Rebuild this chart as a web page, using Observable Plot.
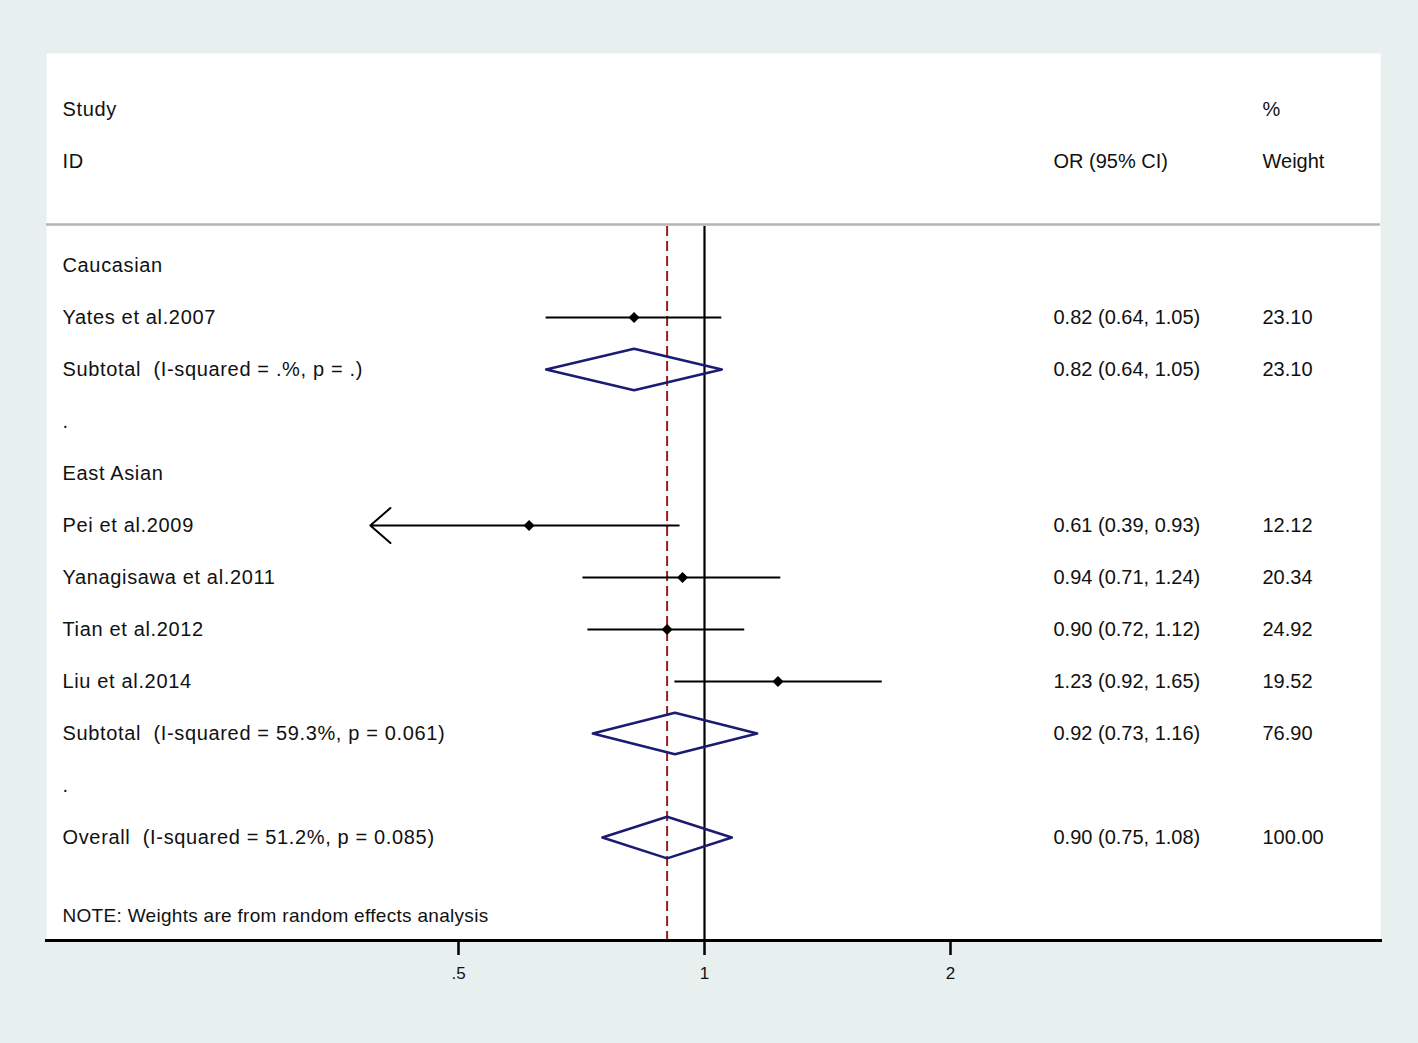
<!DOCTYPE html>
<html>
<head>
<meta charset="utf-8">
<script src="https://cdn.jsdelivr.net/npm/d3@7"></script>
<script src="https://cdn.jsdelivr.net/npm/@observablehq/plot@0.6"></script>
<style>
  html, body { margin: 0; padding: 0; background: #e7f0ef; }
  #chart svg { display: block; }
  #chart svg text { white-space: pre; }
  #chart svg .leftcol text { letter-spacing: 0.65px; }
  #chart svg .note text { letter-spacing: 0.3px; }
</style>
</head>
<body>
<div id="chart"></div>
<script>
// ---- Data ----
const studyNames = ["Yates et al.2007", "Pei et al.2009", "Yanagisawa et al.2011", "Tian et al.2012", "Liu et al.2014"];
const studyRows  = [1, 5, 6, 7, 8];
const studyOR    = [0.82, 0.61, 0.94, 0.90, 1.23];
const studyLo    = [0.64, 0.39, 0.71, 0.72, 0.92];
const studyHi    = [1.05, 0.93, 1.24, 1.12, 1.65];
const studyW     = [23.10, 12.12, 20.34, 24.92, 19.52];

const pooledNames = ["Subtotal  (I-squared = .%, p = .)", "Subtotal  (I-squared = 59.3%, p = 0.061)", "Overall  (I-squared = 51.2%, p = 0.085)"];
const pooledRows  = [2, 9, 11];
const pooledOR    = [0.82, 0.92, 0.90];
const pooledLo    = [0.64, 0.73, 0.75];
const pooledHi    = [1.05, 1.16, 1.08];
const pooledW     = [23.10, 76.90, 100.00];

const groupNames = ["Caucasian", ".", "East Asian", "."];
const groupRows  = [0, 3, 4, 10];

const headerLeft   = [{t: "Study", r: -3}, {t: "ID", r: -2}];
const headerOR     = [{t: "OR (95% CI)", r: -2}];
const headerWeight = [{t: "%", r: -3}, {t: "Weight", r: -2}];
const noteText     = "NOTE: Weights are from random effects analysis";
const noteRow      = 12.5;
const headerLineRow = -0.79;
const axisRow = 12.98;
const xTicks = [0.5, 1, 2];
const xTickLabels = [".5", "1", "2"];
const xMinShown = 0.4;

// ---- Tables ----
const studies = studyNames.map((n, i) => ({name: n, r: studyRows[i], or: studyOR[i], lo: studyLo[i], hi: studyHi[i], w: studyW[i]}));
const pooled = pooledNames.map((n, i) => ({name: n, r: pooledRows[i], or: pooledOR[i], lo: pooledLo[i], hi: pooledHi[i], w: pooledW[i]}));
const groups = groupNames.map((n, i) => ({name: n, r: groupRows[i]}));
const allRows = [...studies, ...pooled];
const fmt = v => v.toFixed(2);

const halfH = 0.4;
const diamonds = pooled.flatMap((d, i) => [
  {id: i, x: d.lo, y: d.r},
  {id: i, x: d.or, y: d.r - halfH},
  {id: i, x: d.hi, y: d.r},
  {id: i, x: d.or, y: d.r + halfH},
  {id: i, x: d.lo, y: d.r}
]);
const normalCI = studies.filter(d => d.lo >= xMinShown);
const arrowCI = studies.filter(d => d.lo < xMinShown);
const overall = pooled[pooled.length - 1];

const font = "Liberation Sans, Arial, sans-serif";
const navy = "#1b1b72";
const txt = {frameAnchor: "left", textAnchor: "start", fontSize: 20, fill: "#111"};

const chart = Plot.plot({
  width: 1418,
  height: 1043,
  marginTop: 53,
  marginLeft: 46,
  marginRight: 38,
  marginBottom: 103,
  style: {fontFamily: font, background: "transparent", color: "#111"},
  x: {type: "log", domain: [0.5, 2], range: [458, 950], axis: null},
  y: {type: "linear", domain: [-4.077, axisRow], range: [53, 940], axis: null},
  marks: [
    Plot.frame({fill: "white", stroke: null}),
    Plot.ruleY([headerLineRow], {stroke: "#b4b4b4", strokeWidth: 2.5}),
    // reference lines
    Plot.ruleX([1], {y1: headerLineRow + 0.04, y2: axisRow, stroke: "#000", strokeWidth: 2.2}),
    Plot.ruleX([overall.or], {y1: headerLineRow + 0.04, y2: axisRow, stroke: "#9a1c1c", strokeWidth: 2, strokeDasharray: "10,5"}),
    // CI lines
    Plot.ruleY(normalCI, {y: "r", x1: "lo", x2: "hi", stroke: "#000", strokeWidth: 2}),
    Plot.arrow(arrowCI, {x1: "hi", y1: "r", x2: "lo", y2: "r", stroke: "#000", strokeWidth: 2, headLength: 20, headAngle: 82, inset: 0}),
    Plot.dot(studies, {x: "or", y: "r", symbol: "diamond2", fill: "#000", stroke: null, r: 5}),
    // pooled diamonds
    Plot.line(diamonds, {x: "x", y: "y", z: "id", stroke: navy, strokeWidth: 2.5, curve: "linear-closed"}),
    // axis
    Plot.frame({anchor: "bottom", stroke: "#000", strokeWidth: 3}),
    Plot.axisX({ticks: xTicks, tickFormat: d => xTickLabels[xTicks.indexOf(d)], tickSize: 15, tickPadding: 11, fontSize: 17, strokeWidth: 2.5, stroke: "#000", fill: "#111"}),
    // left text column
    Plot.text(headerLeft, {...txt, y: "r", text: "t", dx: 16, className: "leftcol"}),
    Plot.text(groups, {...txt, y: "r", text: "name", dx: 16, className: "leftcol"}),
    Plot.text(allRows, {...txt, y: "r", text: "name", dx: 16, className: "leftcol"}),
    Plot.text([noteText], {...txt, y: () => noteRow, text: d => d, dx: 16, fontSize: 19, className: "note"}),
    // OR column
    Plot.text(headerOR, {...txt, y: "r", text: "t", dx: 1007}),
    Plot.text(allRows, {...txt, y: "r", text: d => `${fmt(d.or)} (${fmt(d.lo)}, ${fmt(d.hi)})`, dx: 1007}),
    // Weight column
    Plot.text(headerWeight, {...txt, y: "r", text: "t", dx: 1216}),
    Plot.text(allRows, {...txt, y: "r", text: d => fmt(d.w), dx: 1216})
  ]
});
document.getElementById("chart").appendChild(chart);
</script>
</body>
</html>
